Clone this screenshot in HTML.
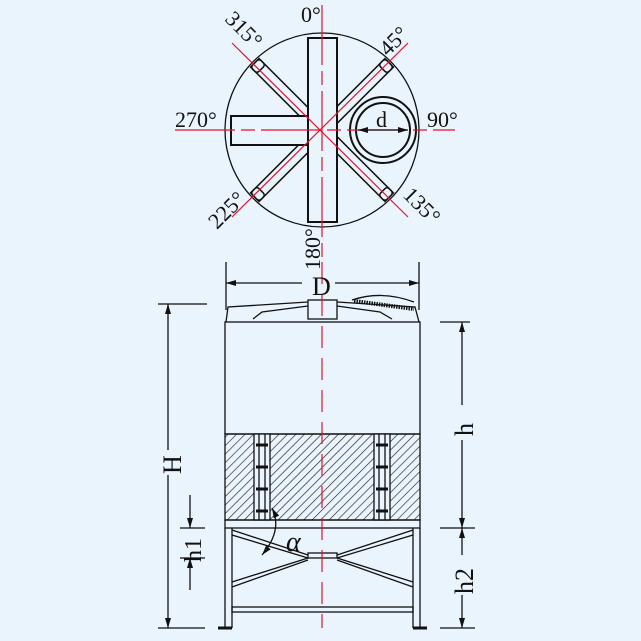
<!DOCTYPE html>
<html><head><style>body{margin:0;background:#eaf4fc}svg{display:block}text{font-family:"Liberation Serif",serif;fill:#111}</style></head><body>
<svg width="641" height="641" viewBox="0 0 641 641" xmlns="http://www.w3.org/2000/svg">
<defs>
<pattern id="h" width="6" height="6" patternUnits="userSpaceOnUse" patternTransform="rotate(45)"><line x1="0" y1="0" x2="0" y2="6" stroke="#222" stroke-width="1.3"/></pattern>
<marker id="a" markerWidth="10" markerHeight="6" refX="10" refY="3" orient="auto-start-reverse" markerUnits="userSpaceOnUse"><path d="M0,0 L10,3 L0,6z" fill="#111"/></marker>
</defs>
<rect width="641" height="641" fill="#eaf4fc"/>
<!-- top view -->
<circle cx="322" cy="130" r="97" fill="none" stroke="#111" stroke-width="1.3"/>
<g stroke="#111" stroke-width="1.5" fill="#eaf4fc">
<g transform="translate(322,130) rotate(-45)"><rect x="-6" y="-95" width="12" height="95"/><rect x="-6" y="-95" width="12" height="9" rx="3"/></g>
<g transform="translate(322,130) rotate(45)"><rect x="-6" y="-95" width="12" height="95"/><rect x="-6" y="-95" width="12" height="9" rx="3"/></g>
<g transform="translate(322,130) rotate(135)"><rect x="-6" y="-95" width="12" height="95"/><rect x="-6" y="-95" width="12" height="9" rx="3"/></g>
<g transform="translate(322,130) rotate(-135)"><rect x="-6" y="-95" width="12" height="95"/><rect x="-6" y="-95" width="12" height="9" rx="3"/></g>
<rect x="231" y="116" width="77" height="29" stroke-width="2"/>
<rect x="308" y="38" width="29" height="184" stroke-width="2"/>
<circle cx="383" cy="130" r="33" stroke-width="2"/>
<circle cx="383" cy="130" r="27" stroke-width="2"/>
</g>
<g stroke="#e8102a" stroke-width="1.2" fill="none">
<line x1="175" y1="130" x2="455" y2="130" stroke-dasharray="60,6,14,6"/>
<line x1="322" y1="5" x2="322" y2="262" stroke-dasharray="60,6,14,6"/>
<line x1="232" y1="43" x2="408" y2="217"/>
<line x1="408" y1="43" x2="232" y2="217"/>
</g>
<line x1="358" y1="130" x2="408" y2="130" stroke="#111" stroke-width="1.2" marker-start="url(#a)" marker-end="url(#a)"/>
<text x="376" y="127" font-size="22">d</text>
<text x="301" y="22" font-size="22">0°</text>
<text x="175" y="127" font-size="22">270°</text>
<text x="427" y="127" font-size="22">90°</text>
<text transform="translate(224,20) rotate(45)" font-size="22">315°</text>
<text transform="translate(388,57) rotate(-45)" font-size="22">45°</text>
<text transform="translate(217,230) rotate(-45)" font-size="22">225°</text>
<text transform="translate(402,196) rotate(45)" font-size="22">135°</text>
<text transform="translate(320,270) rotate(-90)" font-size="22">180°</text>
<!-- side view -->
<g stroke="#111" stroke-width="1.3" fill="none">
<line x1="226" y1="262" x2="226" y2="310"/><line x1="419" y1="262" x2="419" y2="310"/>
<line x1="226" y1="283" x2="302" y2="283" marker-start="url(#a)"/><line x1="335" y1="283" x2="419" y2="283" marker-end="url(#a)"/>
<path d="M226,322 L228,307 L308,302 L337,302 L415,307 L419,322"/>
<path d="M253,319 L262,312 L308,306 M337,306 L380,312 L392,319"/>
<rect x="308" y="300" width="29" height="19" fill="#eaf4fc"/>
<path d="M352,300 Q382,290 414,302" />
<rect x="225" y="322" width="195" height="112" fill="#eaf4fc"/>
<rect x="225" y="434" width="195" height="86" fill="url(#h)"/>
<rect x="254" y="434" width="16" height="86" fill="#eaf4fc"/>
<rect x="374" y="434" width="16" height="86" fill="#eaf4fc"/>
<line x1="259" y1="434" x2="259" y2="520"/><line x1="265" y1="434" x2="265" y2="520"/>
<line x1="379" y1="434" x2="379" y2="520"/><line x1="385" y1="434" x2="385" y2="520"/>
<rect x="225" y="520" width="195" height="8"/>
<line x1="225" y1="528" x2="225" y2="628"/><line x1="232" y1="528" x2="232" y2="628"/>
<line x1="413" y1="528" x2="413" y2="628"/><line x1="420" y1="528" x2="420" y2="628"/>
<rect x="232" y="607" width="181" height="5"/>
<path d="M232,530 L308,555 M232,535 L308,558 M232,582 L308,558 M232,587 L308,560"/>
<path d="M413,530 L337,555 M413,535 L337,558 M413,582 L337,558 M413,587 L337,560"/>
<rect x="308" y="553" width="29" height="5"/>
<line x1="158" y1="304" x2="207" y2="304"/><line x1="158" y1="628" x2="205" y2="628"/>
<line x1="168" y1="304" x2="168" y2="450" marker-start="url(#a)"/><line x1="168" y1="475" x2="168" y2="628" marker-end="url(#a)"/>
<line x1="440" y1="322" x2="470" y2="322"/><line x1="440" y1="528" x2="475" y2="528"/><line x1="440" y1="628" x2="475" y2="628"/>
<line x1="462" y1="322" x2="462" y2="405" marker-start="url(#a)"/><line x1="462" y1="440" x2="462" y2="528" marker-end="url(#a)"/>
<line x1="462" y1="528" x2="462" y2="555" marker-start="url(#a)"/><line x1="462" y1="595" x2="462" y2="628" marker-end="url(#a)"/>
<line x1="180" y1="528" x2="205" y2="528"/><line x1="180" y1="558" x2="205" y2="558"/>
<line x1="190" y1="495" x2="190" y2="528" marker-end="url(#a)"/><line x1="190" y1="590" x2="190" y2="558" marker-end="url(#a)"/>
<path d="M272,508 Q283,530 262,555" marker-start="url(#a)" marker-end="url(#a)"/>
</g>
<g stroke="#111" stroke-width="3">
<path d="M256,445h12M256,467h12M256,489h12M256,511h12M376,445h12M376,467h12M376,489h12M376,511h12"/>
<path d="M218,628h14M413,628h14"/>
</g>
<g stroke="#111" stroke-width="4" stroke-dasharray="1.5,1"><path d="M354,301 L414,309"/></g>
<line x1="322" y1="262" x2="322" y2="628" stroke="#e8102a" stroke-width="1.2" stroke-dasharray="22,10"/>
<text x="312" y="295" font-size="26">D</text>
<text transform="translate(181,474) rotate(-90)" font-size="26">H</text>
<text transform="translate(473,436) rotate(-90)" font-size="26">h</text>
<text transform="translate(473,594) rotate(-90)" font-size="26">h2</text>
<text transform="translate(201,562) rotate(-90)" font-size="24">h1</text>
<text x="286" y="551" font-size="28" font-style="italic">α</text>
</svg>
</body></html>
